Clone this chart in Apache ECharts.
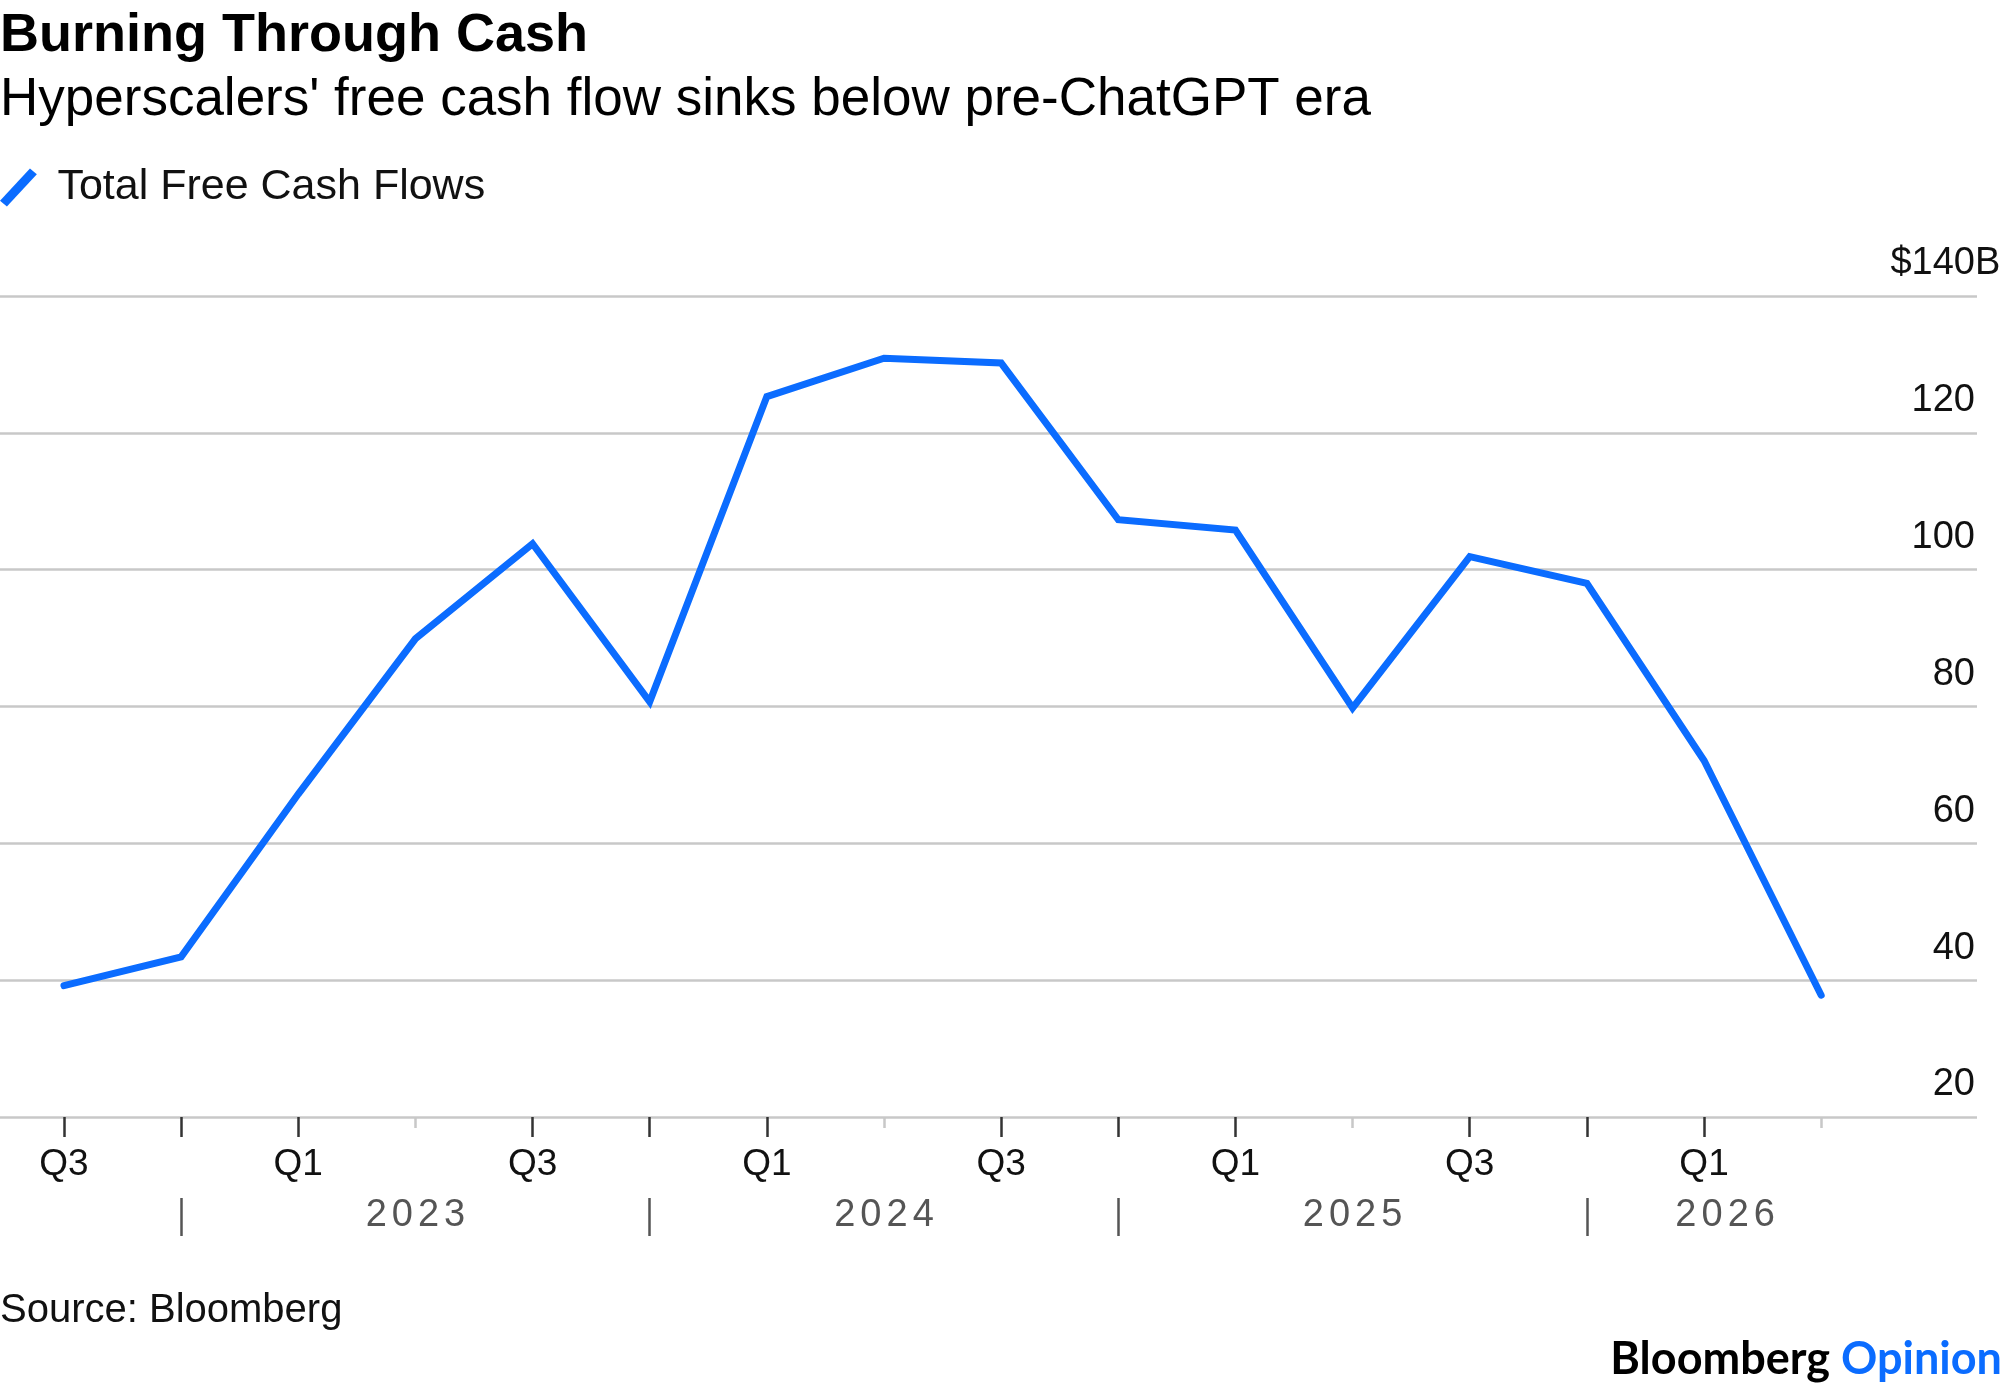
<!DOCTYPE html>
<html>
<head>
<meta charset="utf-8">
<title>Burning Through Cash</title>
<script src="https://cdn.jsdelivr.net/npm/echarts@6/dist/echarts.min.js"></script>
<style>
  html, body { margin: 0; padding: 0; background: #ffffff; }
  #chart { width: 2005px; height: 1392px; }
</style>
</head>
<body>
<div id="chart"></div>
<script>
// 数据：季度与自由现金流（十亿美元）
const quarters = [
  'Q3 2022', 'Q4 2022', 'Q1 2023', 'Q2 2023', 'Q3 2023', 'Q4 2023',
  'Q1 2024', 'Q2 2024', 'Q3 2024', 'Q4 2024', 'Q1 2025', 'Q2 2025',
  'Q3 2025', 'Q4 2025', 'Q1 2026', 'Q2 2026'
];
const freeCashFlow = [
  39.2, 43.4, 67.2, 89.9, 103.8, 80.7,
  125.3, 130.9, 130.2, 107.3, 105.8, 79.8,
  101.9, 98.0, 72.1, 37.8
];
// 年份标签及其在季度轴上的位置
const yearLabels = ['2023', '2024', '2025', '2026'];
const yearLabelPos = [3, 7, 11, 14.18];
// y轴刻度
const yMin = 20;
const yMax = 140;
const yStep = 20;

const FONT = "'Liberation Sans', Arial, Helvetica, sans-serif";
const BLUE = '#0b6cff';
const INK = '#111111';
const GREY = '#555555';
const Y_LABEL_SIZE = 38;

// 按季度名称挑选索引
const qName = q => q.split(' ')[0];
const idxWhere = test => quarters
  .map((q, i) => (test(qName(q)) ? i : -1))
  .filter(i => i >= 0);

const labelIdx = idxWhere(q => q === 'Q1' || q === 'Q3');
const majorTickIdx = idxWhere(q => q !== 'Q2');
const minorTickIdx = idxWhere(q => q === 'Q2');
const yearSepIdx = idxWhere(q => q === 'Q4');

// 顶部标签 "$140B"：数字部分与其他刻度右对齐，"B" 向右伸出
const measureCtx = document.createElement('canvas').getContext('2d');
measureCtx.font = Y_LABEL_SIZE + 'px ' + FONT;
const topNumWidth = measureCtx.measureText('$' + yMax).width;

// x轴范围略宽于数据，使网格线铺满
const xMin = -0.546;
const xMax = 16.33;

const chart = echarts.init(document.getElementById('chart'), null, { renderer: 'canvas' });

const baseX = {
  type: 'value',
  min: xMin,
  max: xMax,
  position: 'bottom',
  axisLine: { show: false },
  splitLine: { show: false }
};

const option = {
  animation: false,
  backgroundColor: '#ffffff',
  title: [
    {
      text: 'Burning Through Cash',
      left: 0, top: 9, padding: 0,
      textStyle: { fontFamily: FONT, fontSize: 54, fontWeight: 'bold', color: '#000' }
    },
    {
      text: "Hyperscalers' free cash flow sinks below pre-ChatGPT era",
      left: 0, top: 74, padding: 0,
      textStyle: { fontFamily: FONT, fontSize: 53, fontWeight: 'normal', color: '#000' }
    }
  ],
  legend: {
    left: 0,
    top: 166,
    padding: 0,
    itemWidth: 40,
    itemHeight: 38,
    selectedMode: false,
    data: [{ name: 'Total Free Cash Flows', icon: 'path://M0,29 L26,1 L32,6 L6,34 Z' }],
    textStyle: { fontFamily: FONT, fontSize: 43, color: INK, padding: [0, 0, 0, 14] }
  },
  grid: {
    left: 0,
    right: 28,
    top: 296,
    bottom: 275,
    containLabel: false,
    outerBoundsMode: 'none'
  },
  xAxis: [
    {
      // 季度标签与深色刻度
      ...baseX,
      axisTick: {
        show: true,
        customValues: majorTickIdx,
        length: 20,
        lineStyle: { color: '#333333', width: 2.5 }
      },
      axisLabel: {
        customValues: labelIdx,
        margin: 29,
        fontFamily: FONT,
        fontSize: 37,
        color: INK,
        formatter: v => qName(quarters[Math.round(v)])
      }
    },
    {
      // Q2 浅色短刻度
      ...baseX,
      axisTick: {
        show: true,
        customValues: minorTickIdx,
        length: 11,
        lineStyle: { color: '#c8c8c8', width: 2.5 }
      },
      axisLabel: { show: false }
    },
    {
      // 年份行
      ...baseX,
      offset: 81,
      axisTick: {
        show: true,
        customValues: yearSepIdx,
        length: 38,
        lineStyle: { color: GREY, width: 2.5 }
      },
      axisLabel: {
        customValues: yearLabelPos,
        margin: -1,
        fontFamily: FONT,
        fontSize: 38,
        color: GREY,
        formatter: v => {
          const k = yearLabelPos.findIndex(p => Math.abs(p - v) < 1e-6);
          const y = k >= 0 ? yearLabels[k] : '';
          return y.split('').map(c => '{d|' + c + '}').join('');
        },
        rich: {
          d: { fontFamily: FONT, fontSize: 38, color: GREY, padding: [0, 2.5, 0, 2.5] }
        }
      }
    }
  ],
  yAxis: {
    type: 'value',
    min: yMin,
    max: yMax,
    interval: yStep,
    position: 'right',
    axisLine: { show: false },
    axisTick: { show: false },
    splitLine: { show: true, lineStyle: { color: '#c8c8c8', width: 2.5 } },
    axisLabel: {
      inside: true,
      margin: 2,
      fontFamily: FONT,
      fontSize: Y_LABEL_SIZE,
      color: INK,
      verticalAlign: 'bottom',
      padding: [0, 0, 13, 0],
      formatter: v => (v === yMax ? '{top|$' + v + 'B}' : String(v)),
      rich: {
        top: {
          width: topNumWidth,
          align: 'left',
          fontFamily: FONT,
          fontSize: Y_LABEL_SIZE,
          color: INK
        }
      }
    }
  },
  series: [
    {
      name: 'Total Free Cash Flows',
      type: 'line',
      xAxisIndex: 0,
      data: freeCashFlow.map((v, i) => [i, v]),
      symbol: 'none',
      showSymbol: false,
      silent: true,
      color: BLUE,
      itemStyle: { color: BLUE },
      lineStyle: { color: BLUE, width: 7, join: 'miter', cap: 'round' }
    }
  ],
  graphic: [
    {
      type: 'text',
      left: 0,
      top: 1291,
      style: { text: 'Source: Bloomberg', font: '40px ' + FONT, fill: INK }
    },
    {
      type: 'text',
      right: 3,
      top: 1337,
      style: {
        text: '{b|Bloomberg} {o|Opinion}',
        font: 'bold 45px Lato, sans-serif',
        rich: {
          b: { fontFamily: 'Lato', fontWeight: 'bold', fontSize: 45, fill: '#000', color: '#000' },
          o: { fontFamily: 'Lato', fontWeight: 'bold', fontSize: 45, fill: BLUE, color: BLUE }
        }
      }
    }
  ]
};

chart.setOption(option);

window.addEventListener('resize', () => {
  chart.resize();
});
</script>
</body>
</html>
